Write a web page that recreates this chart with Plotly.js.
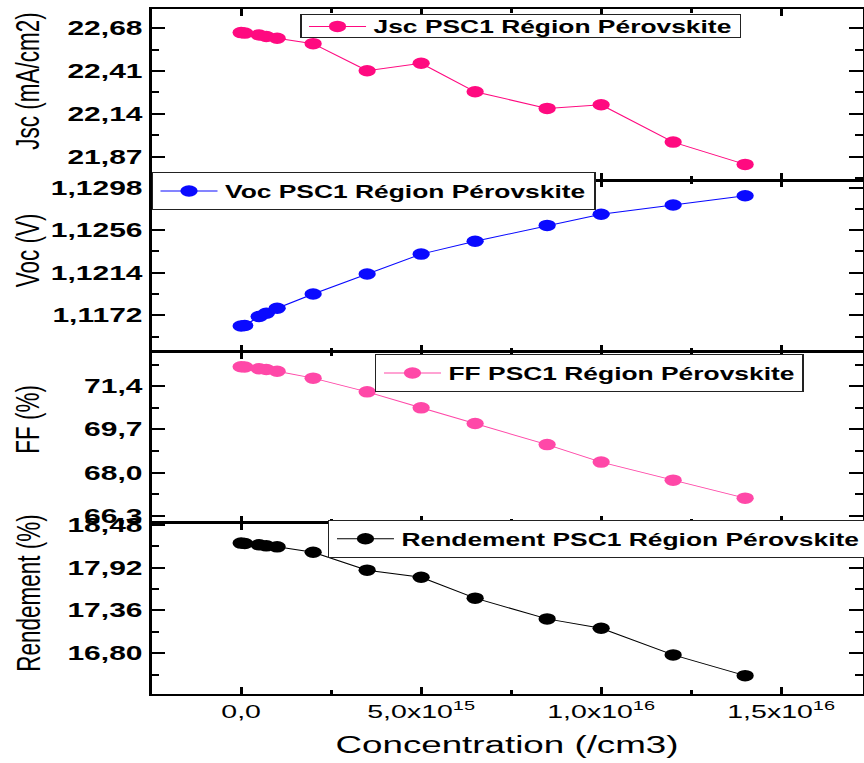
<!DOCTYPE html>
<html>
<head>
<meta charset="utf-8">
<script src="https://cdn.plot.ly/plotly-3.0.1.min.js"></script>
<style>
  html, body { margin: 0; padding: 0; background: #ffffff; overflow: hidden; }
  #wrap { width: 864px; height: 763px; overflow: hidden; }
  #plot { width: 576px; height: 763px; transform: scaleX(1.5); transform-origin: 0 0; }
</style>
</head>
<body>
<div id="wrap"><div id="plot"></div></div>
<script>
// ---- data ----
const concentration = [0, 1e14, 5e14, 7e14, 1e15, 2e15, 3.5e15, 5e15, 6.5e15, 8.5e15, 1e16, 1.2e16, 1.4e16];
const jsc = [22.653, 22.650, 22.638, 22.628, 22.617, 22.583, 22.412, 22.459, 22.279, 22.174, 22.197, 21.961, 21.820];
const voc = [1.11615, 1.11620, 1.11708, 1.11741, 1.11790, 1.11930, 1.12128, 1.12324, 1.12451, 1.12607, 1.12718, 1.12809, 1.12900];
const ff = [72.17, 72.16, 72.09, 72.06, 71.99, 71.72, 71.18, 70.55, 69.93, 69.10, 68.41, 67.70, 66.99];
const rendement = [18.240, 18.235, 18.217, 18.204, 18.191, 18.121, 17.886, 17.794, 17.520, 17.249, 17.127, 16.778, 16.507];

const seriesNames = ["Jsc PSC1 Région Pérovskite", "Voc PSC1 Région Pérovskite", "FF PSC1 Région Pérovskite", "Rendement PSC1 Région Pérovskite"];
const yTitles = ["Jsc (mA/cm2)", "Voc (V)", "FF (%)", "Rendement (%)"];
const xTickVals = [0, 5e15, 1e16, 1.5e16];
const xTickText = ["0,0", "5,0x10<sup>15</sup>", "1,0x10<sup>16</sup>", "1,5x10<sup>16</sup>"];
const xTitle = "Concentration (/cm3)";

// ---- styling ----
const FONT = "'Liberation Sans', Arial, sans-serif";
const colors = ["#ff0a80", "#0a0aff", "#ff48a8", "#000000"];
const ySeries = [jsc, voc, ff, rendement];
const yRanges = [[21.72, 22.802], [1.11363, 1.13053], [66.02, 72.77], [16.267, 18.506]];
const yTick0 = [21.87, 1.1172, 66.3, 16.80];
const yDtick = [0.27, 0.0042, 1.7, 0.56];
const yFormat = [".2f", ".4f", ".1f", ".2f"];
const domains = [[0.75, 1], [0.5, 0.75], [0.25, 0.5], [0, 0.25]];
const legendPos = [
  {x: 0.2089, y: 0.9745},
  {x: 0.0, y: 0.7343},
  {x: 0.3143, y: 0.4686},
  {x: 0.2482, y: 0.2266}
];
const titleY = [0.8949, 0.6474, 0.4015, 0.1474];

const traces = [];
const layout = {
  width: 576, height: 763,
  margin: {l: 101, r: 1, t: 9, b: 69, autoexpand: false},
  paper_bgcolor: "#ffffff", plot_bgcolor: "#ffffff",
  separators: ", ",
  showlegend: true,
  font: {family: FONT, color: "#000000"},
  annotations: []
};

for (let i = 0; i < 4; i++) {
  const n = i + 1;
  const xa = n === 1 ? "x" : "x" + n;
  const ya = n === 1 ? "y" : "y" + n;
  const lg = n === 1 ? "legend" : "legend" + n;
  traces.push({
    x: concentration, y: ySeries[i], xaxis: xa, yaxis: ya,
    type: "scatter", mode: "lines+markers", name: seriesNames[i],
    legend: lg,
    line: {color: colors[i], width: 1},
    marker: {color: colors[i], size: 11.5, symbol: "circle"}
  });
  const xKey = n === 1 ? "xaxis" : "xaxis" + n;
  const yKey = n === 1 ? "yaxis" : "yaxis" + n;
  layout[xKey] = {
    domain: [0, 1], anchor: ya, range: [-2.49e15, 1.726e16], automargin: false,
    showline: true, linecolor: "#000", linewidth: 1.6, mirror: "ticks",
    ticks: "inside", ticklen: 7, tickwidth: 2, tickcolor: "#000",
    tickmode: "array", tickvals: xTickVals, ticktext: xTickText,
    showticklabels: n === 4, showgrid: false, zeroline: false,
    tickfont: {family: FONT, size: 19, color: "#000"},
    minor: {ticks: "inside", ticklen: 4, tickwidth: 2, tickcolor: "#000", dtick: 2.5e15, tick0: 0, showgrid: false}
  };
  if (n === 4) {
    layout[xKey].title = {text: xTitle, font: {family: FONT, size: 24.5, color: "#000"}, standoff: 14};
  }
  layout[yKey] = {
    domain: domains[i], anchor: xa, range: yRanges[i], automargin: false,
    showline: true, linecolor: "#000", linewidth: 2, mirror: "ticks",
    ticks: "inside", ticklen: 9, tickwidth: 2, tickcolor: "#000",
    tickmode: "linear", tick0: yTick0[i], dtick: yDtick[i], tickformat: yFormat[i],
    showgrid: false, zeroline: false,
    tickfont: {family: FONT, size: 20, color: "#000", weight: "bold"},
    minor: {ticks: "inside", ticklen: 5, tickwidth: 2, tickcolor: "#000", dtick: yDtick[i] / 2, tick0: yTick0[i], showgrid: false}
  };
  layout[lg] = {
    x: legendPos[i].x, y: legendPos[i].y, xref: "paper", yref: "paper",
    xanchor: "left", yanchor: "middle",
    bgcolor: "#ffffff", bordercolor: "#222", borderwidth: 1,
    font: {family: FONT, size: 17.6, color: "#000", weight: "bold"},
    itemwidth: 38, tracegroupgap: 0
  };
  layout.annotations.push({
    xref: "paper", yref: "paper", x: -0.1736, y: titleY[i],
    xanchor: "center", yanchor: "middle", textangle: -90, showarrow: false,
    text: yTitles[i], font: {family: FONT, size: 22.5, color: "#000"}
  });
}

Plotly.newPlot("plot", traces, layout, {staticPlot: true, displayModeBar: false}).then(function (gd) {
  // tighten the legend frames to the height of the reference boxes
  const BOX_H = 23;
  gd.querySelectorAll("g.legend rect.bg").forEach(function (r) {
    const h = parseFloat(r.getAttribute("height"));
    const y = parseFloat(r.getAttribute("y") || "0");
    if (h > BOX_H) {
      r.setAttribute("y", y + (h - BOX_H) / 2);
      r.setAttribute("height", BOX_H);
    }
  });
});
</script>
</body>
</html>
